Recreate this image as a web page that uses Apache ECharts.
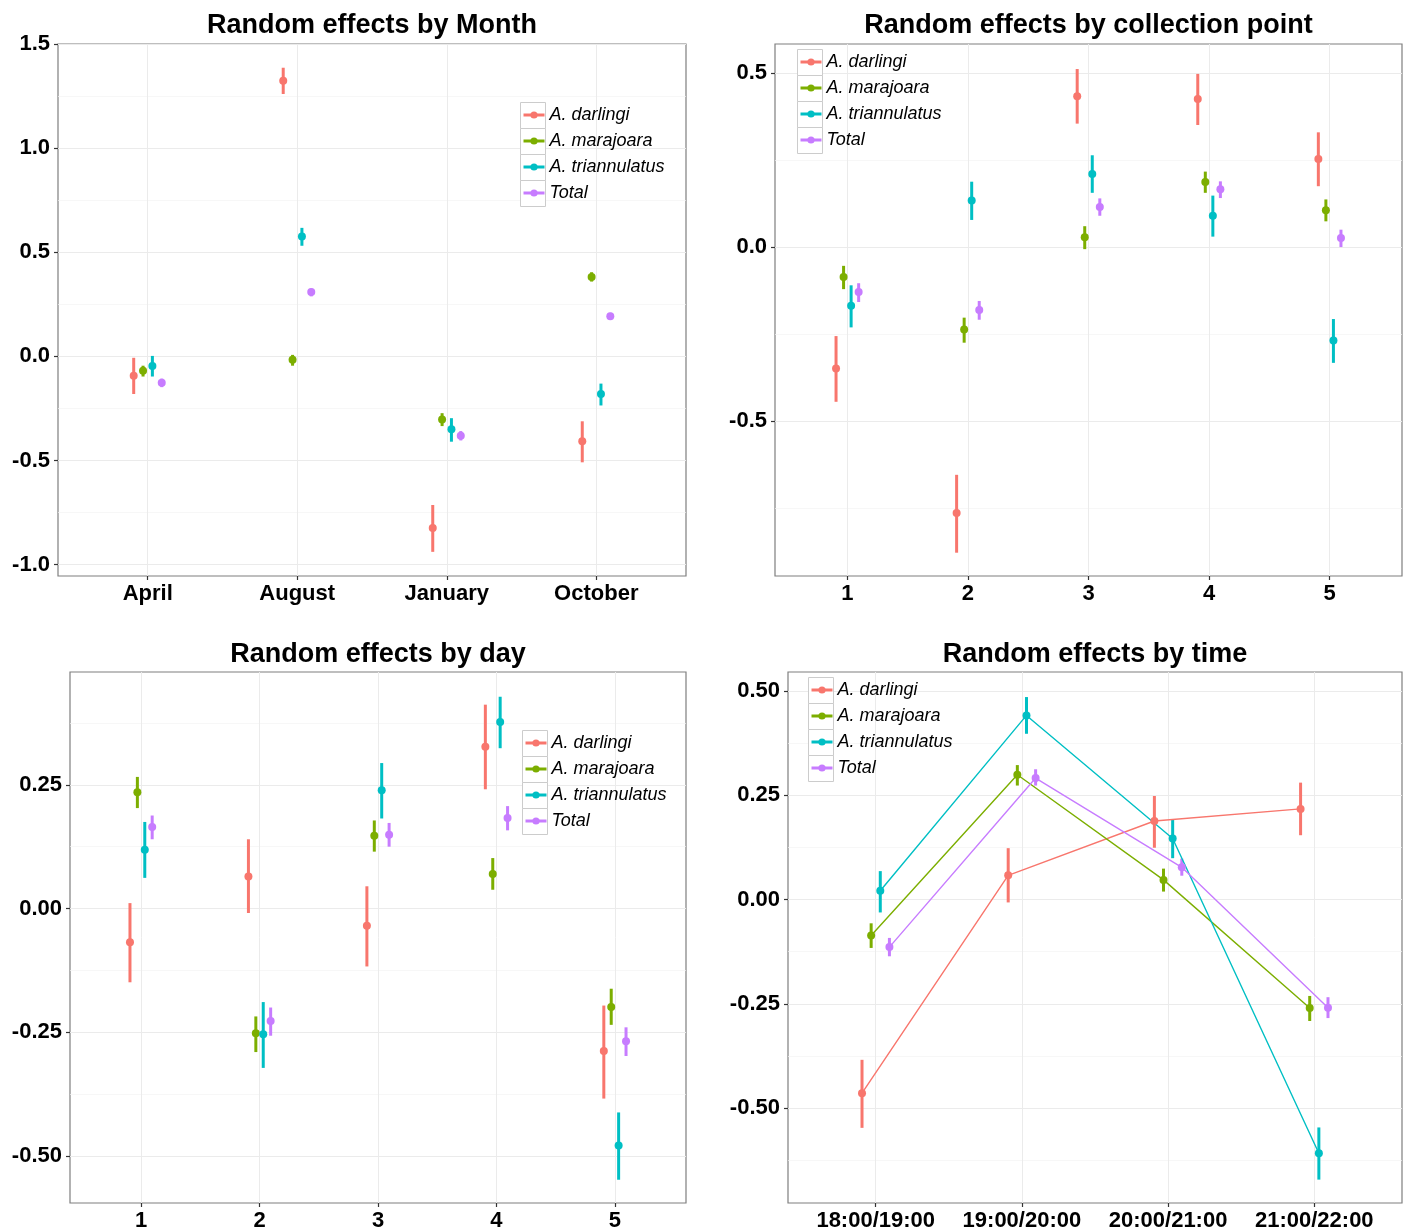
<!DOCTYPE html>
<html><head><meta charset="utf-8">
<script src="https://cdn.jsdelivr.net/npm/echarts@6/dist/echarts.min.js"></script>
<style>html,body{margin:0;padding:0;background:#fff}#c{width:1403px;height:1232px}</style>
</head><body><div id="c"></div>
<script>
// ---------- DATA ----------
const species = ['A. darlingi', 'A. marajoara', 'A. triannulatus', 'Total'];

const monthCats = ['April', 'August', 'January', 'October'];
const pointCats = ['1', '2', '3', '4', '5'];
const dayCats = ['1', '2', '3', '4', '5'];
const timeCats = ['18:00/19:00', '19:00/20:00', '20:00/21:00', '21:00/22:00'];

// rows: A. darlingi, A. marajoara, A. triannulatus, Total
const monthEst = [[-0.093, 1.324, -0.825, -0.408], [-0.069, -0.017, -0.303, 0.381], [-0.047, 0.576, -0.350, -0.181], [-0.127, 0.309, -0.381, 0.193]];
const monthLow = [[-0.181, 1.260, -0.939, -0.509], [-0.097, -0.045, -0.335, 0.359], [-0.097, 0.531, -0.410, -0.236], [-0.148, 0.288, -0.404, 0.176]];
const monthHigh = [[-0.007, 1.386, -0.714, -0.312], [-0.045, 0.007, -0.273, 0.404], [0.002, 0.617, -0.297, -0.131], [-0.107, 0.325, -0.359, 0.209]];

const pointEst = [[-0.349, -0.765, 0.434, 0.426, 0.253], [-0.086, -0.237, 0.028, 0.187, 0.106], [-0.169, 0.134, 0.210, 0.090, -0.269], [-0.129, -0.181, 0.115, 0.166, 0.026]];
const pointLow = [[-0.445, -0.879, 0.355, 0.351, 0.175], [-0.121, -0.275, -0.006, 0.156, 0.074], [-0.231, 0.078, 0.156, 0.030, -0.333], [-0.158, -0.209, 0.090, 0.141, 0.000]];
const pointHigh = [[-0.256, -0.655, 0.512, 0.498, 0.330], [-0.054, -0.203, 0.060, 0.217, 0.137], [-0.110, 0.188, 0.264, 0.148, -0.207], [-0.104, -0.155, 0.140, 0.189, 0.050]];

const dayEst = [[-0.068, 0.065, -0.035, 0.327, -0.288], [0.235, -0.252, 0.147, 0.070, -0.199], [0.119, -0.254, 0.239, 0.377, -0.479], [0.165, -0.227, 0.149, 0.183, -0.268]];
const dayLow = [[-0.149, -0.009, -0.117, 0.241, -0.384], [0.203, -0.290, 0.115, 0.038, -0.235], [0.062, -0.322, 0.182, 0.324, -0.548], [0.140, -0.257, 0.125, 0.158, -0.298]];
const dayHigh = [[0.011, 0.140, 0.045, 0.412, -0.196], [0.266, -0.218, 0.178, 0.102, -0.162], [0.175, -0.189, 0.294, 0.428, -0.412], [0.188, -0.200, 0.173, 0.207, -0.240]];

const timeEst = [[-0.464, 0.058, 0.188, 0.217], [-0.086, 0.299, 0.047, -0.260], [0.021, 0.441, 0.146, -0.608], [-0.114, 0.291, 0.077, -0.259]];
const timeLow = [[-0.547, -0.007, 0.124, 0.154], [-0.116, 0.273, 0.019, -0.291], [-0.031, 0.397, 0.099, -0.671], [-0.136, 0.273, 0.057, -0.284]];
const timeHigh = [[-0.384, 0.123, 0.248, 0.280], [-0.057, 0.322, 0.074, -0.231], [0.068, 0.485, 0.191, -0.546], [-0.092, 0.312, 0.098, -0.234]];

const monthTicks = [-1.0, -0.5, 0.0, 0.5, 1.0, 1.5];
const pointTicks = [-0.5, 0.0, 0.5];
const dayTicks = [-0.50, -0.25, 0.00, 0.25];
const timeTicks = [-0.50, -0.25, 0.00, 0.25, 0.50];

const titles = ['Random effects by Month', 'Random effects by collection point', 'Random effects by day', 'Random effects by time'];

// ---------- STYLE / LAYOUT ----------
const colors = ['#F8766D', '#7CAE00', '#00BFC4', '#C77CFF'];
const dodge = [-0.09375, -0.03125, 0.03125, 0.09375];
const FONT = 'Liberation Sans, Arial, Helvetica, sans-serif';

const panels = [
  { cats: monthCats, est: monthEst, lo: monthLow, hi: monthHigh, ticks: monthTicks, dec: 1, ymin: -1.055, ymax: 1.5,
    grid: { left: 58, top: 44, width: 628, height: 532 }, legend: { left: 520, top: 102 }, lines: false, titleTop: 12 },
  { cats: pointCats, est: pointEst, lo: pointLow, hi: pointHigh, ticks: pointTicks, dec: 1, ymin: -0.946, ymax: 0.584,
    grid: { left: 775, top: 44, width: 627, height: 532 }, legend: { left: 797, top: 49 }, lines: false, titleTop: 12 },
  { cats: dayCats, est: dayEst, lo: dayLow, hi: dayHigh, ticks: dayTicks, dec: 2, ymin: -0.595, ymax: 0.478,
    grid: { left: 70, top: 672, width: 616, height: 532 }, legend: { left: 522, top: 730 }, lines: false, titleTop: 641 },
  { cats: timeCats, est: timeEst, lo: timeLow, hi: timeHigh, ticks: timeTicks, dec: 2, ymin: -0.727, ymax: 0.545,
    grid: { left: 788, top: 672, width: 614, height: 532 }, legend: { left: 808, top: 677 }, lines: true, titleTop: 641 }
];

function minorOf(ticks, lo, hi) {
  const step = ticks[1] - ticks[0];
  const out = [];
  for (let v = ticks[0] - step / 2; v <= hi + 1e-9; v += step) {
    if (v >= lo) out.push(+v.toFixed(4));
  }
  return out;
}

const option = {
  backgroundColor: '#ffffff',
  animation: false,
  title: [], grid: [], xAxis: [], yAxis: [], legend: [], series: [], graphic: []
};

panels.forEach((P, p) => {
  const g = P.grid;
  option.grid.push({ left: g.left, top: g.top, width: g.width, height: g.height, show: true,
    borderColor: '#7f7f7f', borderWidth: 1.2, backgroundColor: '#ffffff', containLabel: false });
  option.title.push({ text: titles[p], left: g.left + g.width / 2, top: P.titleTop, textAlign: 'center', padding: 0,
    textStyle: { fontSize: 27, fontWeight: 'bold', fontFamily: FONT, color: '#000' } });
  const n = P.cats.length;
  const catTicks = P.cats.map((c, i) => i + 1);
  option.xAxis.push({
    type: 'value', gridIndex: p, min: 0.4, max: n + 0.6, position: 'bottom',
    axisLine: { show: false, onZero: false },
    axisTick: { show: true, length: 4, customValues: catTicks, lineStyle: { color: '#333', width: 1.2 } },
    axisLabel: { customValues: catTicks, margin: 7, formatter: v => P.cats[Math.round(v) - 1],
      fontSize: 22, fontWeight: 'bold', fontFamily: FONT, color: '#000' },
    splitLine: { show: true, lineStyle: { color: '#ebebeb', width: 1 } }
  });
  option.yAxis.push({
    type: 'value', gridIndex: p, min: P.ymin, max: P.ymax, position: 'left',
    axisLine: { show: false, onZero: false },
    axisTick: { show: true, length: 4, customValues: P.ticks, lineStyle: { color: '#333', width: 1.2 } },
    axisLabel: { customValues: P.ticks, margin: 8, formatter: v => v.toFixed(P.dec),
      fontSize: 22, fontWeight: 'bold', fontFamily: FONT, color: '#000' },
    splitLine: { show: true, lineStyle: { color: '#ebebeb', width: 1 } }
  });
  const minor = minorOf(P.ticks, P.ymin, P.ymax);
  option.yAxis.push({
    type: 'value', gridIndex: p, min: P.ymin, max: P.ymax, position: 'left',
    axisLine: { show: false, onZero: false },
    axisTick: { show: false, customValues: minor },
    axisLabel: { show: false, customValues: minor },
    splitLine: { show: true, lineStyle: { color: '#f3f3f3', width: 0.7 } }
  });
  // legend key boxes
  for (let k = 0; k < 4; k++) {
    option.graphic.push({ type: 'rect', z: 1, left: P.legend.left, top: P.legend.top + k * 26,
      shape: { width: 25, height: 26 }, style: { fill: '#fff', stroke: '#cccccc', lineWidth: 1 } });
  }
  option.legend.push({
    orient: 'vertical', left: P.legend.left + 2, top: P.legend.top, padding: 0, itemGap: 0,
    itemWidth: 21, itemHeight: 9, data: species, selectedMode: false,
    lineStyle: { width: 3, opacity: 1 },
    textStyle: { fontSize: 18, fontStyle: 'italic', fontFamily: FONT, color: '#000', lineHeight: 26 }
  });
  species.forEach((name, s) => {
    const xs = P.cats.map((c, i) => i + 1 + dodge[s]);
    option.series.push({
      type: 'custom', name: name + ' CI', xAxisIndex: p, yAxisIndex: 2 * p, z: 2,
      encode: { x: 0, y: [1, 2] },
      data: xs.map((x, i) => [x, P.lo[s][i], P.hi[s][i]]),
      renderItem: (params, api) => {
        const a = api.coord([api.value(0), api.value(1)]);
        const b = api.coord([api.value(0), api.value(2)]);
        return { type: 'line', shape: { x1: a[0], y1: a[1], x2: b[0], y2: b[1] },
          style: { stroke: colors[s], lineWidth: 3 } };
      }
    });
    option.series.push({
      type: 'line', name: name, xAxisIndex: p, yAxisIndex: 2 * p, z: 3,
      data: xs.map((x, i) => [x, P.est[s][i]]),
      symbol: 'circle', symbolSize: 8, showSymbol: true,
      itemStyle: { color: colors[s] },
      lineStyle: P.lines ? { color: colors[s], width: 1.4 } : { color: colors[s], width: 0, opacity: 0 },
      emphasis: { disabled: true }
    });
  });
});

const chart = echarts.init(document.getElementById('c'), null, { renderer: 'canvas' });
chart.setOption(option);
</script></body></html>
